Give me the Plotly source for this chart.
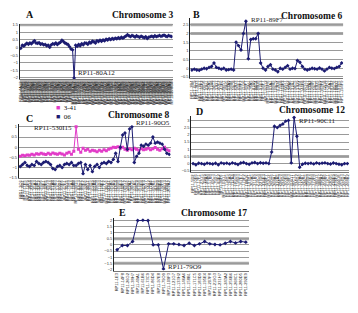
import plotly.graph_objects as go

# ---------------- data ----------------
A_clones = """RP11-4A12 RP11-7B3 RP11-12C5 RP11-15D8 RP11-19E2 RP11-21F9 RP11-24G1 RP11-28H6 RP11-30A4 RP11-33B7
RP11-36C2 RP11-39D5 RP11-41E8 RP11-44F3 RP11-47G6 RP11-50H1 RP11-52A9 RP11-55B4 RP11-58C7 RP11-61D2
RP11-63E5 RP11-66F8 RP11-69G3 RP11-72H6 RP11-74A1 RP11-77B9 RP11-79C4 RP11-82D7 RP11-85E2 RP11-87F5
RP11-90G8 RP11-93H3 RP11-95A6 RP11-98B1 RP11-101C9 RP11-80A12 RP11-104D4 RP11-107E7 RP11-110F2 RP11-113G5
RP11-116H8 RP11-118A3 RP11-121B6 RP11-124C1 RP11-127D9 RP11-129E4 RP11-132F7 RP11-135G2 RP11-138H5 RP11-140A8
RP11-143B3 RP11-146C6 RP11-149D1 RP11-151E9 RP11-154F4 RP11-157G7 RP11-160H2 RP11-162A5 RP11-165B8 RP11-168C3
RP11-171D6 RP11-173E1 RP11-176F9 RP11-179G4 RP11-182H7 RP11-184A2 RP11-187B5 RP11-190C8 RP11-193D3 RP11-195E6
RP11-198F1 RP11-201G9 RP11-204H4 RP11-206A7 RP11-209B2 RP11-212C5 RP11-215D8 RP11-217E3 RP11-220F6 RP11-223G1
RP11-226H9 RP11-228A4 RP11-231B7 RP11-234C2 RP11-237D5 RP11-239E8 RP11-242F3 RP11-245G6 RP11-248H1 RP11-250A9
RP11-253B4 RP11-256C7 RP11-259D2 RP11-261E5 RP11-264F8 RP11-267G3 RP11-270H6 RP11-272A1 RP11-275B9 RP11-278C4""".split()
A_values = [-0.05, 0.15, 0.10, 0.20, 0.28, 0.22, 0.30, 0.25, 0.35, 0.45,
            0.30, 0.28, 0.32, 0.22, 0.25, 0.18, 0.20, 0.12, 0.15, 0.02,
            0.18, 0.25, 0.22, 0.30, 0.20, 0.28, 0.35, 0.48, 0.40, 0.30,
            0.25, 0.20, 0.05, -0.10, -0.15, -2.00, 0.15, 0.08, 0.20, 0.12,
            0.25, 0.18, 0.30, 0.28, 0.22, 0.35, 0.30, 0.42, 0.38, 0.30,
            0.45, 0.40, 0.48, 0.42, 0.50, 0.45, 0.55, 0.50, 0.58, 0.52,
            0.60, 0.55, 0.62, 0.58, 0.65, 0.60, 0.68, 0.62, 0.70, 0.75,
            0.85, 0.78, 0.72, 0.80, 0.75, 0.70, 0.78, 0.72, 0.68, 0.75,
            0.70, 0.65, 0.72, 0.60, 0.68, 0.72, 0.75, 0.70, 0.78, 0.72,
            0.75, 0.80, 0.74, 0.78, 0.82, 0.76, 0.72, 0.80, 0.75, 0.73]

B_clones = """RP11-2B4 RP11-6C9 RP11-9D3 RP11-13E7 RP11-16F2 RP11-20G6 RP11-23H1 RP11-26A5 RP11-31B8 RP11-34C3
RP11-37D7 RP11-40E2 RP11-43F6 RP11-46G1 RP11-49H5 RP11-53A9 RP11-56B4 RP11-59C8 RP11-62D3 RP11-65E7
RP11-68F2 RP11-71G6 RP11-89F7 RP11-75H1 RP11-78A5 RP11-81B9 RP11-84C4 RP11-88D8 RP11-91E3 RP11-94F7
RP11-97G2 RP11-100H6 RP11-103A1 RP11-106B5 RP11-109C9 RP11-112D4 RP11-115E8 RP11-119F3 RP11-122G7 RP11-125H2
RP11-128A6 RP11-131B1 RP11-134C5 RP11-137D9 RP11-141E4 RP11-144F8 RP11-147G3 RP11-150H7 RP11-153A2 RP11-156B6
RP11-159C1 RP11-163D5 RP11-166E9 RP11-169F4 RP11-172G8 RP11-175H3 RP11-178A7 RP11-181B2 RP11-185C6 RP11-188D1
RP11-191E5 RP11-194F9""".split()
B_values = [-0.10, -0.05, -0.10, -0.12, -0.05, 0.00, -0.03, 0.05, 0.10, 0.30,
            0.05, 0.00, -0.05, 0.00, -0.10, -0.08, -0.05, -0.10, 1.50, 1.30,
            1.05, 2.00, 2.70, 0.55, 1.65, 1.70, 1.70, 2.00, 0.30, 0.00,
            -0.10, 0.10, 0.20, -0.05, -0.10, -0.20, 0.00, -0.05, 0.05, 0.15,
            -0.05, 0.00, -0.02, 0.45, 0.35, 0.10, -0.05, -0.10, -0.05, 0.00,
            -0.03, -0.05, 0.02, -0.05, -0.15, -0.05, 0.05, 0.00, -0.02, 0.05,
            0.10, 0.30]

C_clones = """RP11-3C6 RP11-8D1 RP11-11E5 RP11-14F9 RP11-18G4 RP11-22H8 RP11-25A3 RP11-29B7 RP11-32C2 RP11-35D6
RP11-38E1 RP11-42F5 RP11-45G9 RP11-48H4 RP11-51A8 RP11-54B3 RP11-57C7 RP11-60D2 RP11-64E6 RP11-67F1
RP11-70G5 RP11-73H9 RP11-76A4 RP11-79B8 RP11-530I15 RP11-83C3 RP11-86D7 RP11-89E2 RP11-92F6 RP11-96G1
RP11-99H5 RP11-102A9 RP11-105B4 RP11-108C8 RP11-111D3 RP11-114E7 RP11-117F2 RP11-120G6 RP11-123H1 RP11-126A5
RP11-130B9 RP11-133C4 RP11-136D8 RP11-139E3 RP11-142F7 RP11-145G2 RP11-148H6 RP11-152A1 RP11-90O5 RP11-155B5
RP11-158C9 RP11-161D4 RP11-164E8 RP11-167F3 RP11-170G7 RP11-174H2 RP11-177A6 RP11-180B1 RP11-183C5 RP11-186D9
RP11-189E4 RP11-192F8 RP11-196G3 RP11-199H7 RP11-202A2""".split()
C_series_341 = [-0.45, -0.40, -0.42, -0.38, -0.40, -0.35, -0.38, -0.32, -0.35, -0.30,
                -0.33, -0.36, -0.30, -0.34, -0.28, -0.32, -0.35, -0.30, -0.33, -0.38,
                -0.30, -0.25, -0.35, -0.20, 1.00, -0.10, -0.25, -0.05, -0.15, -0.10,
                -0.20, -0.15, -0.18, -0.22, -0.15, -0.20, -0.12, -0.18, -0.10, -0.05,
                0.00, -0.02, 0.02, -0.05, 0.00, -0.10, -0.15, -0.08, -0.12, -0.05,
                -0.10, -0.15, -0.08, -0.12, -0.10, -0.05, -0.12, -0.08, -0.02, -0.10,
                -0.15, -0.08, 0.00, -0.12, -0.18]
C_series_06 = [-0.95, -0.85, -0.75, -0.90, -0.95, -0.85, -0.90, -0.70, -0.80, -0.85,
               -0.75, -0.70, -0.75, -0.85, -1.05, -1.10, -0.95, -0.90, -1.00, -0.85,
               -0.80, -0.85, -0.75, -0.90, -0.90, -0.80, -0.75, -1.30, -0.85, -1.10,
               -0.90, -1.20, -0.95, -0.85, -1.00, -0.80, -0.75, -0.80, -0.70, -0.75,
               -0.60, -0.30, -0.70, 0.00, 0.60, 0.70, -0.10, 0.90, 1.00, -0.75,
               -0.45, -0.30, 0.10, 0.05, 0.15, 0.10, 0.20, 0.50, 0.20, 0.25,
               0.20, 0.15, -0.10, -0.30, -0.35]
C_series_names = ["3-41", "06"]

D_clones = """RP11-5D2 RP11-10E6 RP11-17F1 RP11-27G5 RP11-39H9 RP11-46A4 RP11-57B8 RP11-69C3 RP11-75D7 RP11-83E2
RP11-94F6 RP11-103G1 RP11-114H5 RP11-126A9 RP11-137B4 RP11-145C8 RP11-158D3 RP11-167E7 RP11-179F2 RP11-188G6
RP11-197H1 RP11-203A5 RP11-211B9 RP11-219C4 RP11-227D8 RP11-236E3 RP11-244F7 RP11-252G2 RP11-260H6 RP11-268A1
RP11-276B5 RP11-284C9 RP11-292D4 RP11-300E8 RP11-308F3 RP11-316G7 RP11-90C11 RP11-324H2 RP11-332A6 RP11-340B1
RP11-348C5 RP11-356D9 RP11-364E4 RP11-372F8 RP11-380G3 RP11-388H7 RP11-396A2 RP11-404B6 RP11-412C1 RP11-420D5
RP11-428E9 RP11-436F4 RP11-444G8 RP11-452H3 RP11-460A7 RP11-468B2""".split()
D_values = [0.00, -0.08, 0.02, 0.00, -0.05, 0.03, 0.00, -0.03, 0.02, -0.08,
            0.05, 0.00, 0.03, -0.02, 0.05, 0.00, -0.06, 0.04, 0.08, 0.00,
            -0.05, 0.05, 0.08, 0.00, 0.06, 0.02, 0.05, 0.00, 0.80, 2.60,
            2.50, 2.65, 2.75, 2.95, 3.00, 0.05, 3.20, 1.90, -0.25, -0.05,
            0.02, 0.00, 0.03, -0.02, 0.05, 0.00, 0.03, 0.05, 0.00, -0.03,
            0.04, 0.00, -0.05, -0.08, 0.00, 0.00]

E_clones = """RP11-1E3 RP11-14F8 RP11-26G2 RP11-38H7 RP11-49A1 RP11-61B6 RP11-73C9 RP11-86D4 RP11-97E8 RP11-79O9
RP11-109F3 RP11-121G7 RP11-133H2 RP11-146A6 RP11-158B1 RP11-171C5 RP11-183D9 RP11-195E4 RP11-207F8 RP11-219G3
RP11-231H7 RP11-243A2 RP11-256B6 RP11-268C1 RP11-280D5 RP11-292E9""".split()
E_values = [-0.40, -0.05, -0.05, 0.27, 1.97, 2.00, 1.97, 0.00, 0.00, -1.95,
            0.08, 0.08, 0.03, -0.05, 0.13, -0.05, 0.08, 0.27, 0.08, 0.03,
            0.00, 0.13, 0.27, 0.16, 0.27, 0.22]

A_ticks = [-2, -1.5, -1, -0.5, 0, 0.5, 1, 1.5]
B_ticks = [-0.5, 0, 0.5, 1, 1.5, 2, 2.5]
C_ticks = [-1.5, -1, -0.5, 0, 0.5, 1]
D_ticks = [-0.5, 0, 0.5, 1, 1.5, 2, 2.5, 3]
E_ticks = [-2, -1.5, -1, -0.5, 0, 0.5, 1, 1.5, 2]

A_thresholds = [1.5]
B_thresholds = [2.5, 2.0]
D_thresholds = [0.5]
E_thresholds = [0.5, -1.5]

# ---------------- figure ----------------
W, H = 358, 313
NAVY = "#1c1c72"
PINK = "#e23cc8"


def px_x(v):
    return v / W


def px_y(v):
    return 1 - v / H


fig = go.Figure()

panels = [
    ("", A_clones, [("A", A_values, NAVY)], A_ticks, [-2.07, 1.57], (18, 172), (22, 78)),
    ("2", B_clones, [("B", B_values, NAVY)], B_ticks, [-0.56, 2.9], (190, 344), (16, 77)),
    ("3", C_clones, [(C_series_names[0], C_series_341, PINK), (C_series_names[1], C_series_06, NAVY)],
     C_ticks, [-1.5, 1.12], (17, 170), (124, 178)),
    ("4", D_clones, [("D", D_values, NAVY)], D_ticks, [-0.57, 3.34], (191, 350), (115, 172)),
    ("5", E_clones, [("E", E_values, NAVY)], E_ticks, [-2.08, 2.16], (113, 249), (219, 272)),
]

layout = {}
for key, clones, series, yt, yr, xd, yd in panels:
    n = len(series[0][1])
    idx = list(range(n))
    for name, vals, col in series:
        fig.add_trace(go.Scatter(
            x=idx, y=vals, mode="lines+markers", name=name,
            xaxis="x" + key, yaxis="y" + key,
            line=dict(color=col, width=1),
            marker=dict(color=col, size=3, symbol="square" if col == PINK else "diamond"),
            showlegend=False,
        ))
    m = min(len(clones), n)
    layout["xaxis" + key] = dict(
        domain=[px_x(xd[0]), px_x(xd[1])], anchor="y" + key,
        range=[-0.6, n - 0.4], tickmode="array",
        tickvals=list(range(m)), ticktext=clones[:m], tickangle=-90,
        tickfont=dict(size=4, color="#222", family="Liberation Sans"),
        showgrid=False, zeroline=False, showline=True, linecolor="#777", linewidth=1,
        ticks="", fixedrange=True,
    )
    layout["yaxis" + key] = dict(
        domain=[px_y(yd[1]), px_y(yd[0])], anchor="x" + key,
        range=yr, tickmode="array", tickvals=yt,
        tickfont=dict(size=4, color="#333", family="Liberation Sans"),
        showgrid=True, gridcolor="#9a9a9a", gridwidth=0.8, zeroline=False,
        showline=True, linecolor="#222", linewidth=1, ticks="", fixedrange=True,
    )

shapes = [dict(type="rect", xref="paper", yref="paper",
               x0=px_x(18), x1=px_x(172), y0=px_y(96), y1=px_y(78),
               fillcolor="#b5b5b5", line=dict(width=0), layer="below")]
for key, ths in [("", A_thresholds), ("2", B_thresholds), ("4", D_thresholds), ("5", E_thresholds)]:
    for t in ths:
        shapes.append(dict(type="line", xref="x" + key + " domain", yref="y" + key,
                           x0=0, x1=1, y0=t, y1=t,
                           line=dict(color="#a8a8a8", width=3), layer="below"))

TF = "Liberation Serif"


def title(text, x, y, anchor="left", size=9.5):
    return dict(text="<b>" + text + "</b>", xref="paper", yref="paper", x=x, y=y,
                xanchor=anchor, yanchor="middle", showarrow=False,
                font=dict(family=TF, size=size, color="#111"))


annotations = [
    title("A", px_x(22), px_y(13), size=10),
    title("Chromosome 3", px_x(175), px_y(13), anchor="right"),
    title("B", px_x(191), px_y(13), size=10),
    title("Chromosome 6", px_x(346), px_y(14), anchor="right"),
    title("C", px_x(22), px_y(118), size=10),
    title("Chromosome 8", px_x(171), px_y(114), anchor="right"),
    title("D", px_x(194), px_y(111), size=10),
    title("Chromosome 12", px_x(348), px_y(109), anchor="right"),
    title("E", px_x(116), px_y(213), size=10),
    title("Chromosome 17", px_x(249), px_y(214), anchor="right"),
]

# legend for panel C drawn as text
for name, col, ypx in [(C_series_names[0], PINK, 107), (C_series_names[1], NAVY, 116)]:
    annotations.append(dict(
        text='<span style="color:%s">&#9632;</span>  %s' % (col, name),
        xref="paper", yref="paper", x=px_x(52), y=px_y(ypx), xanchor="left", yanchor="middle",
        showarrow=False, font=dict(family=TF, size=7, color="#111")))


def clone_label(text, key, xi, yv, xanchor, yanchor, xs, ys):
    return dict(text=text, xref="x" + key, yref="y" + key, x=xi, y=yv,
                xanchor=xanchor, yanchor=yanchor, xshift=xs, yshift=ys,
                showarrow=False, font=dict(family=TF, size=7, color="#222"))


annotations += [
    clone_label(A_clones[35], "", 35, -1.7, "left", "middle", 2, 0),
    clone_label(B_clones[22], "2", 22, B_values[22], "left", "middle", 3, 1),
    clone_label(C_clones[24], "3", 24, C_series_341[24], "right", "middle", -2, -1),
    clone_label(C_clones[48], "3", 48, C_series_06[48], "left", "middle", 2, 4),
    clone_label(D_clones[36], "4", 36, D_values[36], "left", "middle", 3, -3),
    clone_label(E_clones[9], "5", 9, E_values[9], "left", "middle", 3, 2),
]

fig.update_layout(
    width=W, height=H, margin=dict(l=0, r=0, t=0, b=0),
    paper_bgcolor="white", plot_bgcolor="white",
    shapes=shapes, annotations=annotations, showlegend=False,
    **layout,
)

fig.write_html("out.html", config={"displayModeBar": False},
               post_script="document.body.style.margin='0px';")
